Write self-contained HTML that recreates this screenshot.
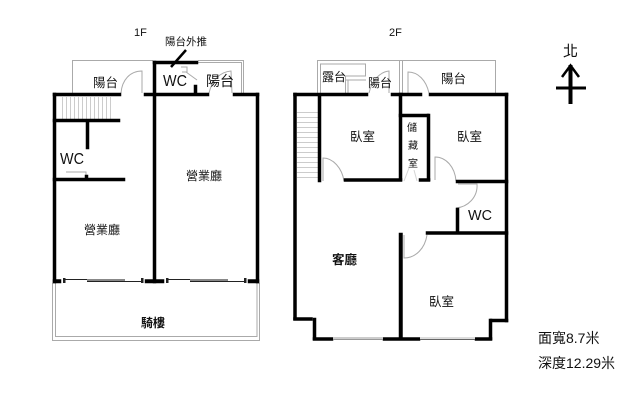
<!DOCTYPE html>
<html><head><meta charset="utf-8"><style>
html,body{margin:0;padding:0;background:#fff;width:640px;height:407px;overflow:hidden}
svg{display:block}
text{font-family:"Liberation Sans","Noto Sans CJK TC",sans-serif;fill:#111}
.w{fill:#000;stroke:#000;stroke-width:.5}
.g{fill:none;stroke:#aaa;stroke-width:1}
.d{fill:none;stroke:#aaa;stroke-width:1}
</style></head><body>
<svg width="640" height="407" viewBox="0 0 640 407" xmlns="http://www.w3.org/2000/svg">
<!-- 1F thin balcony lines -->
<path class="g" d="M72.500 93V60.500H153"/>
<path class="g" d="M198 60.500H243.500V93M198 62.500H241.500V93"/>
<path class="g" d="M52.500 283V340.500H259.500V283M55.500 283V336.500H257V283"/>
<!-- stairs 1F -->
<path d="M62.500 97V119M66.500 97V119M70.500 97V119M74.500 97V119M78.500 97V119M82.500 97V119M86.500 97V119M90.500 97V119M94.500 97V119M98.500 97V119M102.500 97V119M106.500 97V119M110.500 97V119" stroke="#ccc" stroke-width="1" fill="none"/>
<!-- doors 1F -->
<path class="d" d="M121 93C122 80 130 71 142 71V93"/>
<path class="d" d="M181 67H187V72H182M186 72L197 80"/>
<path class="d" d="M209 93C212 80 220 72 231 71L232 93"/>
<path class="d" d="M66 172H86V178"/>
<!-- 1F walls -->
<rect class="w" x="53" y="93" width="3" height="190"/>
<rect class="w" x="53" y="93" width="68" height="3"/>
<rect class="w" x="144" y="93" width="65" height="3"/>
<rect class="w" x="233" y="93" width="26" height="3"/>
<rect class="w" x="153" y="61" width="3" height="222"/>
<rect class="w" x="153" y="61" width="45" height="3"/>
<rect class="w" x="194" y="85" width="3" height="9"/>
<rect class="w" x="256" y="93" width="3" height="190"/>
<rect class="w" x="53" y="119" width="67" height="3"/>
<rect class="w" x="86" y="121" width="3" height="28"/>
<rect class="w" x="85" y="175" width="3" height="4"/>
<rect class="w" x="53" y="178" width="72" height="3"/>
<rect class="w" x="53" y="279.500" width="8" height="3.500"/>
<rect class="w" x="145" y="279.500" width="19" height="3.500"/>
<rect class="w" x="248" y="279.500" width="11" height="3.500"/>
<rect x="63" y="278" width="2.500" height="5" fill="#222"/>
<rect x="141" y="278" width="2.500" height="5" fill="#222"/>
<rect x="166" y="278" width="2.500" height="5" fill="#222"/>
<rect x="244" y="278" width="2.500" height="5" fill="#222"/>
<path d="M65 279.500H125M87 281.500H141M168 279.500H228M190 281.500H244" stroke="#222" stroke-width="1" fill="none"/>
<rect x="87" y="279" width="38" height="2" fill="#888"/>
<rect x="190" y="279" width="38" height="2" fill="#888"/>
<line x1="186" y1="50" x2="171" y2="67" stroke="#000" stroke-width="2.500"/>

<!-- 2F thin lines -->
<path class="g" d="M317.500 93V60.500H495.500V93"/>
<path class="g" d="M399.500 61V93M402.500 61V93"/>
<path class="g" d="M320.500 93V64H365.500V76H345.500V93M345 80H366M348 80V93"/>
<path class="d" d="M369 93C372 80 380 72 389 71V93"/>
<path class="d" d="M408 94V72C418 72 426 80 429 93"/>
<path class="d" d="M323 181V158C333 158 342 168 344 181"/>
<path class="d" d="M435 180V157C446 157 455 167 456 181"/>
<path class="d" d="M458 184H477C478 197 468 207 456 208"/>
<path class="d" d="M404 235V258C416 258 425 248 427 235"/>
<path class="d" d="M404 181L409 168M417 181L414 170" opacity=".5"/>
<!-- stairs 2F -->
<path d="M297 112.500H318M297 117.500H318M297 122.500H318M297 127.500H318M297 132.500H318M297 137.500H318M297 142.500H318M297 147.500H318M297 152.500H318M297 157.500H318M297 162.500H318M297 167.500H318M297 172.500H318M297 177.500H318" stroke="#ccc" stroke-width="1" fill="none"/>
<!-- 2F walls -->
<rect class="w" x="293.500" y="93" width="3" height="227"/>
<rect class="w" x="293.500" y="93" width="74.500" height="3"/>
<rect class="w" x="391" y="93" width="31" height="3"/>
<rect class="w" x="429" y="93" width="79" height="3"/>
<rect class="w" x="505" y="93" width="3" height="229"/>
<rect class="w" x="318" y="95" width="3" height="87"/>
<rect class="w" x="344" y="178.500" width="58" height="3"/>
<rect class="w" x="399" y="93" width="3" height="88"/>
<rect class="w" x="399" y="114" width="30" height="3"/>
<rect class="w" x="427" y="114" width="3" height="67"/>
<rect class="w" x="419" y="178.500" width="11" height="3"/>
<rect class="w" x="456" y="180" width="52" height="3"/>
<rect class="w" x="456" y="208" width="3" height="25"/>
<rect class="w" x="426" y="231.500" width="82" height="3"/>
<rect class="w" x="399" y="233" width="3.500" height="107"/>
<rect class="w" x="293.500" y="317.500" width="19" height="3"/>
<rect class="w" x="313" y="318" width="3" height="22"/>
<rect class="w" x="313" y="337.500" width="20" height="3"/>
<rect class="w" x="383" y="337.500" width="37" height="3"/>
<rect class="w" x="475" y="337.500" width="17" height="3"/>
<rect class="w" x="489" y="319" width="3" height="21"/>
<rect class="w" x="490" y="319" width="18" height="3"/>
<rect x="333" y="337" width="50" height="3" fill="#ccc"/>
<rect x="420" y="337" width="55" height="3" fill="#ddd"/>
<path d="M420 339.500H475" stroke="#666" stroke-width="1"/>
<path d="M333 339.500H383" stroke="#999" stroke-width="1"/>
<!-- north arrow -->
<path d="M570.500 65V104" stroke="#000" stroke-width="4"/>
<path d="M556 88H586" stroke="#000" stroke-width="3"/>
<path d="M562 77L570.500 65.500L579 77" stroke="#000" stroke-width="2.500" fill="none"/>
<!-- labels -->
<text x="134" y="36" font-size="11">1F</text>
<text x="389" y="36" font-size="11">2F</text>
<text x="165" y="45" font-size="10.500">陽台外推</text>
<text x="93" y="87" font-size="12.500">陽台</text>
<text x="163" y="86" font-size="16" textLength="24" lengthAdjust="spacingAndGlyphs">WC</text>
<text x="206" y="86" font-size="14">陽台</text>
<text x="60" y="164" font-size="16" textLength="24" lengthAdjust="spacingAndGlyphs">WC</text>
<text x="186" y="180" font-size="12">營業廳</text>
<text x="84" y="234" font-size="12">營業廳</text>
<text x="141" y="327" font-size="12" font-weight="bold">騎樓</text>
<text x="322" y="81" font-size="12">露台</text>
<text x="368" y="87" font-size="12">陽台</text>
<text x="441" y="83" font-size="12.500">陽台</text>
<text x="350" y="141" font-size="12.500">臥室</text>
<text x="457" y="141" font-size="12.500">臥室</text>
<text x="407" y="131" font-size="10">儲</text>
<text x="408" y="149" font-size="10">藏</text>
<text x="408" y="167" font-size="10">室</text>
<text x="468" y="220" font-size="15" textLength="24" lengthAdjust="spacingAndGlyphs">WC</text>
<text x="332" y="264" font-size="12.500" font-weight="bold">客廳</text>
<text x="429" y="306" font-size="12.500">臥室</text>
<text x="563" y="56" font-size="15">北</text>
<text x="538" y="343" font-size="14">面寬8.7米</text>
<text x="538" y="368" font-size="14">深度12.29米</text>
</svg>
</body></html>
